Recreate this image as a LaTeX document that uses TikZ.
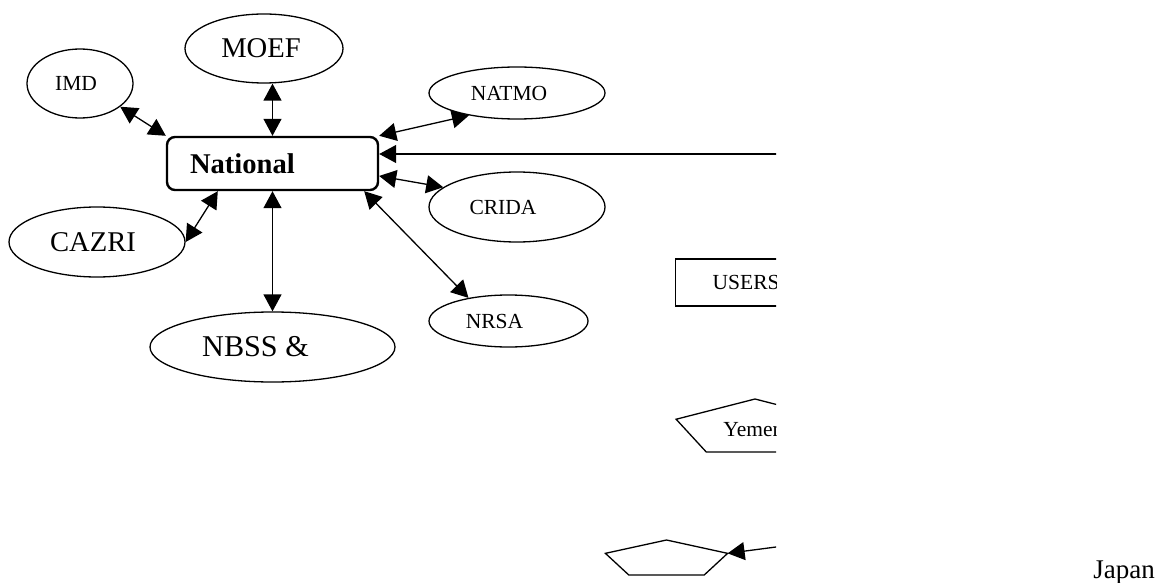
\documentclass[tikz,border=0pt]{standalone}
\usepackage{fontspec}
\setmainfont{Liberation Serif}
\usetikzlibrary{positioning,calc,arrows.meta,shapes.geometric}
\tikzset{
  >={Triangle[length=8.5pt,width=9pt]},
  my org/.style={
    draw,
    ellipse,
    inner sep=0pt,
    line width=0.65pt
  },
  my hub/.style={
    draw,
    rectangle,
    rounded corners=4pt,
    line width=1.2pt,
    minimum height=26.5pt,
    text width=82.5pt,
    inner xsep=11.5pt,
    align=left,
    font=\fontsize{14.3}{16}\selectfont\bfseries
  },
  my user/.style={
    draw,
    rectangle,
    line width=0.65pt,
    minimum height=23.5pt,
    inner xsep=18.5pt,
    anchor=west
  },
  my pent/.style={
    draw,
    regular polygon,
    regular polygon sides=5,
    inner sep=0pt,
    outer sep=0pt,
    line width=0.65pt
  },
  my small/.style={font=\fontsize{10.75}{12}\selectfont},
  my big/.style={font=\fontsize{14.3}{16}\selectfont},
  my link/.style={<->,line width=0.65pt},
  my feed/.style={->,line width=0.65pt}
}

\begin{document}
\begin{tikzpicture}[x=0.5pt,y=-0.5pt]
\useasboundingbox (0,0) rectangle (1156,583);
% National node
\node[my hub] (nat) at (272.5,163.5) {National};
% Organisations round it
\node[my org,my small,minimum width=53pt,minimum height=34.5pt] (imd) at (80,83.5) {IMD\hspace*{4pt}};
\node[my org,my big,minimum width=79pt,minimum height=34.5pt] (moef) at (264,48.5) {MOEF\hspace*{3pt}};
\node[my org,my big,minimum width=88pt,minimum height=35pt] (cazri) at (97,242) {CAZRI\hspace*{4pt}};
\node[my org,font=\fontsize{15.1}{17}\selectfont,minimum width=122.5pt,minimum height=35pt] (nbss) at (272.5,347) {NBSS \&\hspace*{17pt}};
\node[my org,my small,minimum width=88pt,minimum height=26pt] (natmo) at (517,93) {NATMO\hspace*{8pt}};
\node[my org,my small,minimum width=88pt,minimum height=35pt] (crida) at (517,207) {CRIDA\hspace*{14pt}};
\node[my org,my small,minimum width=79.5pt,minimum height=26pt] (nrsa) at (508.5,321) {NRSA\hspace*{14pt}};
% Links to National
\draw[my link] (imd.-30) -- (nat.north west);
\draw[my link] (moef.south -| nat.north) -- (nat.north);
\draw[my link] (natmo.205) -- (nat.north east);
\draw[my link] (crida.165) -- ([yshift=-6.25pt]nat.east);
\draw[my link] (nrsa.150) -- ([xshift=-7.5pt]nat.south east);
\draw[my link] (cazri.east) -- ([xshift=26pt]nat.south west);
\draw[my link] (nat.south) -- (nbss.north);
% Lower pentagon
\node[my pent,minimum size=19.3pt,xscale=3.33] (pent) at (666.5,559.3) {};
% Right part, cut off at the page edge
\begin{scope}
\clip (0,0) rectangle (776,583);
\coordinate (src1) at (900,154);
\draw[my feed] (src1) -- (nat.east |- src1);
\node[my user,my small] (users) at (675,282.5) {USERS};
\node[my pent,minimum size=29.3pt,xscale=2.83] (yemen) at (755,428.3) {};
\node[my small,anchor=west,inner sep=0pt] (yemtxt) at (723,430) {Yemen};
\coordinate (src2) at (860,536);
\draw[my feed] (src2) -- (pent.corner 5);
\end{scope}
\node[font=\fontsize{13.5}{16}\selectfont,anchor=base west,inner sep=0pt] (japan) at (1093,578) {Japan};
\end{tikzpicture}
\end{document}
